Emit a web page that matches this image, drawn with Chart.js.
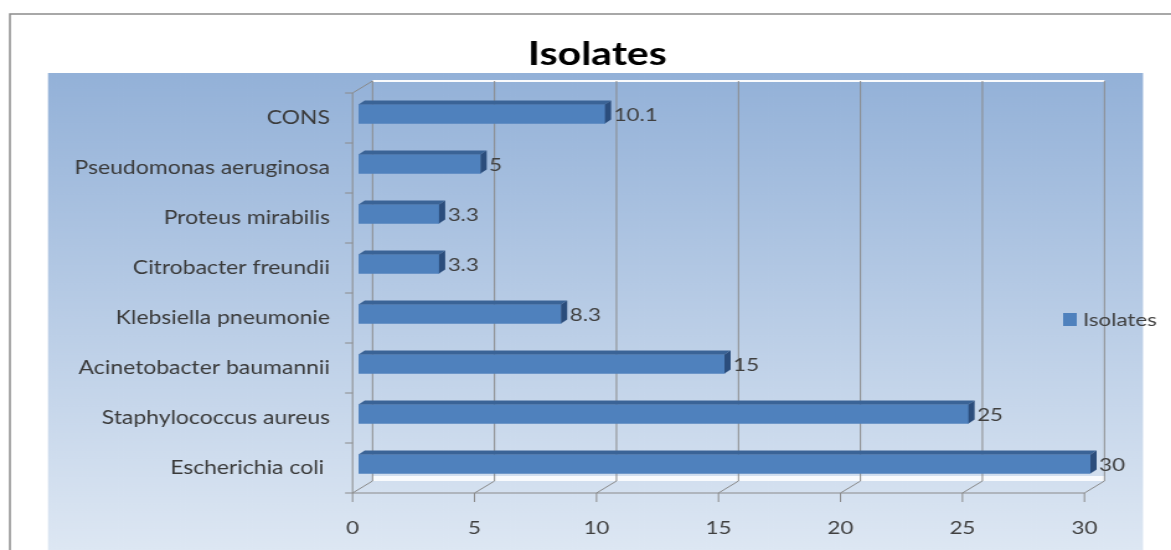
<!DOCTYPE html>
<html>
<head>
<meta charset="utf-8">
<script src="https://cdn.jsdelivr.net/npm/chart.js@4.4.1/dist/chart.umd.min.js"></script>
<style>
  html, body { margin: 0; padding: 0; background: #fff; overflow: hidden; }
  #wrap { width: 1171px; height: 550px; overflow: hidden; }
  /* the original picture is stretched sideways, so the canvas is too */
  #isolatesChart { display: block; transform: scaleX(1.2405); transform-origin: 0 0; }
</style>
</head>
<body>
<div id="wrap"><canvas id="isolatesChart" width="944" height="550"></canvas></div>
<script>
  // data, top to bottom as in the chart
  const categories = ['CONS', 'Pseudomonas aeruginosa', 'Proteus mirabilis', 'Citrobacter freundii',
    'Klebsiella pneumonie', 'Acinetobacter baumannii', 'Staphylococcus aureus', 'Escherichia coli '];
  const isolates = [10.1, 5, 3.3, 3.3, 8.3, 15, 25, 30];
  const seriesName = 'Isolates';
  const axisMin = 0;
  const axisMax = 30;
  const axisStep = 5;

  // fake 3d: offsets of the front and back planes from the bar plane
  const frontDX = -4.8, frontDY = 4;
  const backDX = 11.3, backDY = -8;
  const barDX = 5, barDY = 4;
  const titleCenterX = 481.5;

  const textColor = '#404040';
  const gridColor = '#8a8a8a';

  const backgroundPlugin = {
    id: 'background',
    beforeDraw(chart) {
      const ctx = chart.ctx;
      ctx.save();
      ctx.fillStyle = '#ffffff';
      ctx.fillRect(0, 0, chart.width, chart.height);
      var grad = ctx.createLinearGradient(0, 73, 0, chart.height);
      grad.addColorStop(0, '#93b1d8');
      grad.addColorStop(1, '#dde7f3');
      ctx.fillStyle = grad;
      ctx.fillRect(38.7, 73, 921.4 - 38.7, chart.height - 73);
      ctx.strokeStyle = '#8c8c8c';
      ctx.lineWidth = 1.5;
      ctx.strokeRect(8, 14, 1000, 600);
      ctx.restore();
    }
  };

  // move the title so it sits where the original has it
  const titlePlacePlugin = {
    id: 'titlePlace',
    afterLayout(chart) {
      const t = chart.titleBlock;
      const shift = titleCenterX - (t.left + t.right) / 2;
      t.left += shift;
      t.right += shift;
    }
  };

  const framePlugin = {
    id: 'frame3d',
    beforeDatasetsDraw(chart) {
      const ctx = chart.ctx;
      const ca = chart.chartArea;
      const xs = chart.scales.x;
      const fTop = ca.top + frontDY, fBot = ca.bottom + frontDY;
      const bTop = ca.top + backDY, bBot = ca.bottom + backDY;
      const x0 = xs.getPixelForValue(axisMin), x1 = xs.getPixelForValue(axisMax);

      ctx.save();
      // light edges of the back wall
      ctx.strokeStyle = 'rgba(255,255,255,0.95)';
      ctx.lineWidth = 2;
      ctx.beginPath();
      ctx.moveTo(x0 + backDX, bTop);
      ctx.lineTo(x1 + backDX, bTop);
      ctx.stroke();
      ctx.fillStyle = 'rgba(255,255,255,0.85)';
      ctx.fillRect(x0 + backDX, bBot - 5, x1 - x0, 5);

      ctx.strokeStyle = gridColor;
      ctx.lineWidth = 1;
      ctx.beginPath();
      xs.ticks.forEach(function (t) {
        const px = xs.getPixelForValue(t.value);
        ctx.moveTo(px + backDX, bTop);
        ctx.lineTo(px + backDX, bBot);
        ctx.lineTo(px + frontDX, fBot);
        ctx.lineTo(px + frontDX, fBot + 9);
      });
      // front floor edge
      ctx.moveTo(x0 + frontDX, fBot);
      ctx.lineTo(x1 + frontDX, fBot);
      // category axis
      ctx.moveTo(x0 + frontDX, fBot);
      ctx.lineTo(x0 + frontDX, fTop);
      ctx.lineTo(x0 + backDX, bTop);
      const n = chart.data.labels.length;
      for (let k = 0; k <= n; k++) {
        const y = fTop + k * (ca.height / n);
        ctx.moveTo(x0 + frontDX - 6, y);
        ctx.lineTo(x0 + frontDX, y);
      }
      ctx.stroke();
      ctx.restore();
    }
  };

  const barSidesPlugin = {
    id: 'barSides',
    afterDatasetsDraw(chart) {
      const ctx = chart.ctx;
      const meta = chart.getDatasetMeta(0);
      const values = chart.data.datasets[0].data;
      ctx.save();
      meta.data.forEach(function (bar, i) {
        const p = bar.getProps(['x', 'y', 'base', 'height'], true);
        const top = p.y - p.height / 2, bot = p.y + p.height / 2;
        ctx.fillStyle = '#3a6396';
        ctx.beginPath();
        ctx.moveTo(p.base, top);
        ctx.lineTo(p.base + barDX, top - barDY);
        ctx.lineTo(p.x + barDX, top - barDY);
        ctx.lineTo(p.x, top);
        ctx.closePath();
        ctx.fill();
        ctx.fillStyle = '#2b4d7c';
        ctx.beginPath();
        ctx.moveTo(p.x, top);
        ctx.lineTo(p.x + barDX, top - barDY);
        ctx.lineTo(p.x + barDX, bot - barDY);
        ctx.lineTo(p.x, bot);
        ctx.closePath();
        ctx.fill();

        ctx.fillStyle = textColor;
        ctx.font = '18px Lato';
        ctx.textBaseline = 'middle';
        ctx.textAlign = 'left';
        ctx.fillText(String(values[i]), p.x + 7, p.y + 1);
      });
      ctx.restore();
    }
  };

  const legendPlugin = {
    id: 'sideLegend',
    afterDraw(chart) {
      const ctx = chart.ctx;
      const ds = chart.data.datasets[0];
      ctx.save();
      ctx.fillStyle = ds.backgroundColor;
      ctx.fillRect(857, 313, 11, 13);
      ctx.fillStyle = textColor;
      ctx.font = '18px Lato';
      ctx.textBaseline = 'middle';
      ctx.textAlign = 'left';
      ctx.fillText(ds.label, 873, 320);
      ctx.restore();
    }
  };

  Chart.defaults.font.family = 'Lato';

  new Chart(document.getElementById('isolatesChart'), {
    type: 'bar',
    data: {
      labels: categories,
      datasets: [{
        label: seriesName,
        data: isolates,
        backgroundColor: '#4f81bd',
        barThickness: 19
      }]
    },
    options: {
      indexAxis: 'y',
      responsive: false,
      animation: false,
      devicePixelRatio: 1,
      layout: { padding: { left: 30, right: 65, top: 0, bottom: 0 } },
      scales: {
        x: {
          min: axisMin,
          max: axisMax,
          grid: { display: false, drawTicks: false },
          border: { display: false },
          ticks: { stepSize: axisStep, color: textColor, font: { size: 18 }, padding: 28, labelOffset: frontDX, maxRotation: 0 },
          afterFit(scale) { scale.height = 61; }
        },
        y: {
          grid: { display: false, drawTicks: false },
          border: { display: false },
          ticks: { color: '#3a3a3a', font: { size: 18.5 }, padding: 23, labelOffset: frontDY },
          afterFit(scale) { scale.width = 259; }
        }
      },
      plugins: {
        legend: { display: false },
        tooltip: { enabled: false },
        title: {
          display: true,
          text: 'Isolates',
          color: '#000000',
          font: { size: 33, weight: 'bold' },
          padding: { top: 35, bottom: 14.4 }
        }
      }
    },
    plugins: [backgroundPlugin, titlePlacePlugin, framePlugin, barSidesPlugin, legendPlugin]
  });
</script>
</body>
</html>
